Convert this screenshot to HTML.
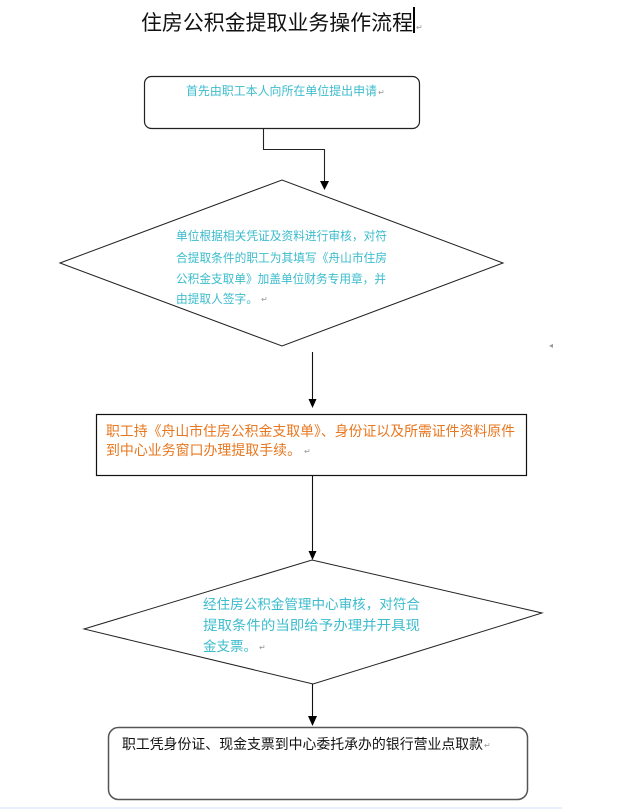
<!DOCTYPE html>
<html><head><meta charset="utf-8"><style>
html,body{margin:0;padding:0;background:#fff;}
svg{display:block;}
text{font-family:"Liberation Sans","Noto Sans CJK SC",sans-serif;}
</style></head><body>
<svg width="620" height="809" viewBox="0 0 620 809" xmlns="http://www.w3.org/2000/svg">
<rect width="620" height="809" fill="#fff"/>
<!-- title -->
<text x="141" y="30" font-size="21" fill="#111" textLength="272" lengthAdjust="spacingAndGlyphs">住房公积金提取业务操作流程</text>
<rect x="413" y="7" width="2" height="26" fill="#000"/>
<text x="416" y="30" font-size="8" fill="#999">↵</text>

<!-- box 1 -->
<rect x="144.5" y="76.5" width="275" height="52" rx="7" ry="7" fill="#fff" stroke="#222" stroke-width="1.2"/>
<text x="186" y="95" font-size="12" fill="#3cbccc" textLength="191" lengthAdjust="spacingAndGlyphs">首先由职工本人向所在单位提出申请</text>
<text x="378" y="95" font-size="8" fill="#999">↵</text>

<!-- connector 1 -->
<polyline points="263.5,129 263.5,149.5 324.5,149.5 324.5,182" fill="none" stroke="#222" stroke-width="1.1"/>
<polygon points="320,181 329,181 324.5,190" fill="#000"/>

<!-- diamond 1 -->
<polygon points="60,263 282,180 503,263 282,346" fill="#fff" stroke="#222" stroke-width="1"/>
<g font-size="12" fill="#3cbccc">
<text x="176" y="240" textLength="211" lengthAdjust="spacingAndGlyphs">单位根据相关凭证及资料进行审核，对符</text>
<text x="176" y="262" textLength="211" lengthAdjust="spacingAndGlyphs">合提取条件的职工为其填写《舟山市住房</text>
<text x="176" y="283" textLength="210" lengthAdjust="spacingAndGlyphs">公积金支取单》加盖单位财务专用章，并</text>
<text x="176" y="303" textLength="82" lengthAdjust="spacingAndGlyphs">由提取人签字。</text>
</g>
<text x="261" y="302" font-size="8" fill="#999">↵</text>
<text x="549" y="348" font-size="8" fill="#999">◂</text>

<!-- arrow 2 -->
<line x1="312.5" y1="352" x2="312.5" y2="400" stroke="#111" stroke-width="1.1"/>
<polygon points="308.5,399 316.5,399 312.5,408" fill="#000"/>

<!-- box 3 -->
<rect x="96.5" y="414.5" width="430" height="61" fill="#fff" stroke="#111" stroke-width="1.2"/>
<g font-size="14" fill="#e8771f">
<text x="106" y="436" textLength="409" lengthAdjust="spacingAndGlyphs">职工持《舟山市住房公积金支取单》、身份证以及所需证件资料原件</text>
<text x="106" y="455" textLength="195" lengthAdjust="spacingAndGlyphs">到中心业务窗口办理提取手续。</text>
</g>
<text x="304" y="454" font-size="8" fill="#999">↵</text>

<!-- arrow 3 -->
<line x1="312.5" y1="476" x2="312.5" y2="552" stroke="#111" stroke-width="1.1"/>
<polygon points="308.5,551 316.5,551 312.5,560" fill="#000"/>

<!-- diamond 2 -->
<polygon points="84,629 312,560 542,613 313,684" fill="#fff" stroke="#222" stroke-width="1"/>
<g font-size="13.5" fill="#3cbccc">
<text x="203" y="609" textLength="217" lengthAdjust="spacingAndGlyphs">经住房公积金管理中心审核，对符合</text>
<text x="203" y="630" textLength="217" lengthAdjust="spacingAndGlyphs">提取条件的当即给予办理并开具现</text>
<text x="203" y="651" textLength="54" lengthAdjust="spacingAndGlyphs">金支票。</text>
</g>
<text x="259" y="650" font-size="8" fill="#999">↵</text>

<!-- arrow 4 -->
<line x1="312.5" y1="684" x2="312.5" y2="717" stroke="#111" stroke-width="1.1"/>
<polygon points="308,716 317,716 312.5,726" fill="#000"/>

<!-- box 5 -->
<rect x="108.5" y="727.5" width="419" height="72" rx="10" ry="10" fill="#fff" stroke="#555" stroke-width="1.5"/>
<text x="122" y="749" font-size="14" fill="#111" textLength="361" lengthAdjust="spacingAndGlyphs">职工凭身份证、现金支票到中心委托承办的银行营业点取款</text>
<text x="484" y="748" font-size="8" fill="#999">↵</text>

<!-- bottom strip -->
<rect x="0" y="807" width="562" height="2" fill="#e6f0fb"/>
</svg>
</body></html>
